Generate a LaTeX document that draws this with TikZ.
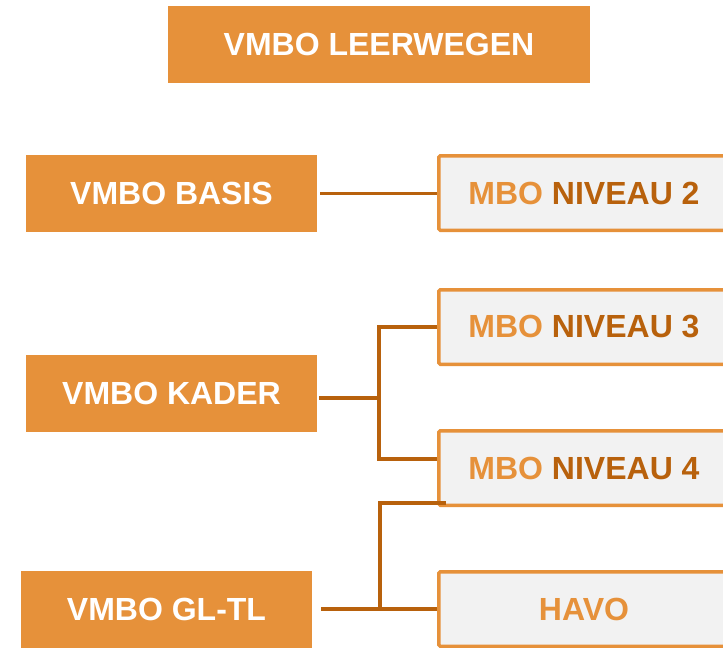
\documentclass[tikz,border=0pt]{standalone}
\usepackage{fontspec}
\setmainfont{Liberation Sans}
\usepackage{tikz}
\usetikzlibrary{positioning}
\definecolor{vorange}{HTML}{E6913A}
\definecolor{vdark}{HTML}{B8610C}
\definecolor{vgray}{HTML}{F2F2F2}
\tikzstyle{leerweg} = [fill=vorange, text=white, rectangle, inner sep=0pt, minimum width=291pt, minimum height=77pt, font=\fontsize{32}{36}\selectfont\bfseries]
\tikzstyle{vervolg} = [draw=vorange, fill=vgray, line width=3.5pt, rectangle, rounded corners=1.5pt, inner sep=0pt, minimum width=290.5pt, minimum height=74.5pt, font=\fontsize{32}{36}\selectfont\bfseries]
\tikzstyle{verbind} = [draw=vdark, line width=3.6pt]
\newcommand{\mbo}[1]{\textcolor{vorange}{MBO} \textcolor{vdark}{#1}}

\begin{document}
\begin{tikzpicture}[x=1pt,y=1pt]
\useasboundingbox (0,0) rectangle (723,-648);
\node [leerweg, minimum width=422pt] (titel) at (379,-44.5) {VMBO LEERWEGEN};
% linkerkolom
\node [leerweg] (basis) at (171.5,-193.5) {VMBO BASIS};
\node [leerweg] (kader) at (171.5,-393.5) {VMBO KADER};
\node [leerweg] (gltl) at (166.5,-609.5) {VMBO GL-TL};
% rechterkolom
\node [vervolg] (niv2) at (584,-193) {\mbo{NIVEAU 2}};
\node [vervolg] (niv3) at (584,-327) {\mbo{NIVEAU 3}};
\node [vervolg] (niv4) at (584,-468) {\mbo{NIVEAU 4}};
\node [vervolg, text=vorange] (havo) at (584,-609) {HAVO};
% verbindingen
\coordinate (ksplit) at (379,-398);
\coordinate (k4) at (437,-459);
\coordinate (gsplit) at (380,-609);
\coordinate (g4) at (446,-503);
\draw [verbind] ([xshift=3pt]basis.east) -- (basis.east -| niv2.west);
\draw [verbind] ([xshift=2pt]kader.east |- ksplit) -- (ksplit) |- (niv3.west);
\draw [verbind] (ksplit) |- (k4);
\draw [verbind] ([xshift=9pt]gltl.east |- gsplit) -- (havo.west |- gsplit);
\draw [verbind] (gsplit) |- (g4);
\end{tikzpicture}
\end{document}
